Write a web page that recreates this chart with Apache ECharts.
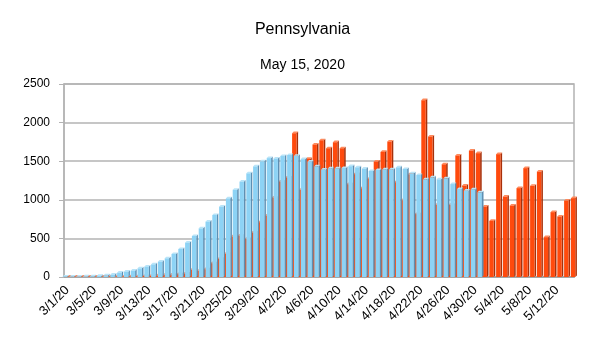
<!DOCTYPE html>
<html>
<head>
<meta charset="utf-8">
<script src="https://cdn.jsdelivr.net/npm/echarts@6/dist/echarts.min.js"></script>
<style>
html,body{margin:0;padding:0;background:#fff;}
#chart{width:605px;height:340px;}
</style>
</head>
<body>
<div id="chart"></div>
<script>
// Categories: 3/1/20 .. 5/14/20
const dates = [];
(function(){
  const months = [[3,31],[4,30],[5,14]];
  months.forEach(function(m){ for (let d = 1; d <= m[1]; d++) dates.push(m[0] + '/' + d + '/20'); });
})();

// Daily values (red, drawn behind)
const dailyValues = [
  0, 0, 0, 0, 0, 2, 2, 5, 4, 8,
  10, 12, 15, 20, 28, 30, 37, 45, 93, 80,
  101, 179, 235, 300, 525, 537, 494, 576, 710, 796,
  1030, 1237, 1289, 1863, 1129, 1530, 1715, 1770, 1668, 1746,
  1668, 1202, 1332, 1150, 1271, 1496, 1620, 1755, 1228, 995,
  1330, 815, 2290, 1820, 935, 1460, 935, 1574, 1185, 1638,
  1604, 913, 727, 1591, 1042, 926, 1151, 1410, 1181, 1366,
  516, 840, 784, 991, 1021
];

// Light-blue series (drawn in front), ends 5/1/20
const blueValues = [
  3, 4, 5, 7, 10, 14, 20, 30, 56, 69,
  82, 112, 134, 164, 199, 242, 298, 363, 445, 531,
  630, 717, 803, 911, 1019, 1130, 1235, 1343, 1433, 1498,
  1540, 1535, 1567, 1580, 1569, 1526, 1494, 1434, 1390, 1407,
  1407, 1412, 1435, 1420, 1405, 1373, 1386, 1394, 1394, 1420,
  1399, 1343, 1321, 1265, 1291, 1265, 1278, 1204, 1140, 1118,
  1135, 1097
];

const yTicks = [0, 500, 1000, 1500, 2000, 2500];

function bar3D(offset, face, side, top) {
  return function (params, api) {
    const v = api.value(1);
    if (v == null || isNaN(v)) return;
    const base = api.coord([api.value(0), 0]);
    const tp = api.coord([api.value(0), v]);
    const w = 4.4, d = 1.6;
    const x0 = base[0] + offset - w / 2, x1 = x0 + w;
    const yb = base[1], yt = Math.min(tp[1], yb - 0.5);
    return {
      type: 'group',
      children: [
        { type: 'polygon', shape: { points: [[x1, yb], [x1, yt], [x1 + d, yt - d], [x1 + d, yb - d]] }, style: { fill: side } },
        { type: 'polygon', shape: { points: [[x0, yt], [x1, yt], [x1 + d, yt - d], [x0 + d, yt - d]] }, style: { fill: top } },
        { type: 'rect', shape: { x: x0, y: yt, width: w, height: yb - yt }, style: { fill: face } }
      ]
    };
  };
}

const redData = dailyValues.map(function (v, i) { return [i, v]; });
const blueData = blueValues.map(function (v, i) { return [i, v]; });

const chart = echarts.init(document.getElementById('chart'), null, { renderer: 'canvas' });
chart.setOption({
  animation: false,
  backgroundColor: '#ffffff',
  title: [
    { text: 'Pennsylvania', left: 'center', top: 17, textStyle: { fontFamily: 'Liberation Sans', fontSize: 16, fontWeight: 'normal', color: '#000' } },
    { text: 'May 15, 2020', left: 'center', top: 53, textStyle: { fontFamily: 'Liberation Sans', fontSize: 14, fontWeight: 'normal', color: '#000' } }
  ],
  grid: { left: 64, top: 84, width: 510, height: 193, show: true, borderColor: '#b3b3b3', borderWidth: 1.5 },
  xAxis: {
    type: 'category',
    data: dates,
    boundaryGap: true,
    axisLine: { show: true, lineStyle: { color: '#a6a6a6', width: 2 } },
    axisTick: { show: false },
    axisLabel: {
      interval: 3, rotate: 45, margin: 11,
      fontFamily: 'Liberation Sans', fontSize: 13, color: '#000'
    },
    splitLine: { show: false }
  },
  yAxis: {
    type: 'value',
    min: yTicks[0], max: yTicks[yTicks.length - 1], interval: 500,
    axisLine: { show: true, lineStyle: { color: '#b3b3b3', width: 1.5 } },
    axisTick: { show: true, length: 5, lineStyle: { color: '#b3b3b3' } },
    axisLabel: { margin: 14, fontFamily: 'Liberation Sans', fontSize: 12, color: '#000', formatter: function (v) { return String(v); } },
    splitLine: { show: true, lineStyle: { color: '#b3b3b3', width: 1.5 } }
  },
  series: [
    {
      name: 'Daily', type: 'custom', z: 2,
      renderItem: bar3D(2.5, '#ff4a0d', '#a8300a', '#ff8a5c'),
      encode: { x: 0, y: 1 },
      data: redData
    },
    {
      name: 'Blue', type: 'custom', z: 3,
      renderItem: bar3D(-2.5, '#8dd3f5', '#5d8fb3', '#b9e4f8'),
      encode: { x: 0, y: 1 },
      data: blueData
    }
  ]
});
</script>
</body>
</html>
